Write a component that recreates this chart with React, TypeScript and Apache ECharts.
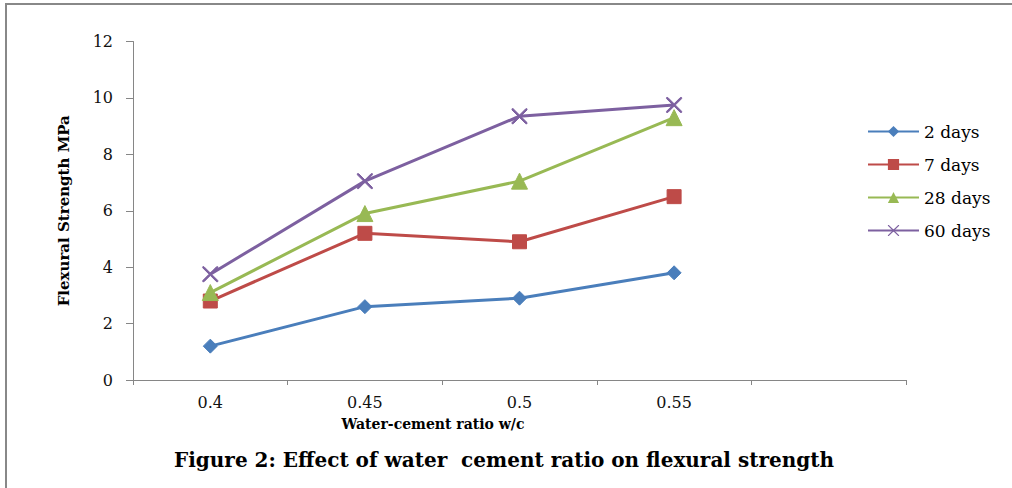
import React, { useEffect, useRef } from "react";
import * as echarts from "echarts";

const categories = ["0.4", "0.45", "0.5", "0.55", ""];
const seriesNames = ["2 days", "7 days", "28 days", "60 days"];
const days2 = [1.2, 2.6, 2.9, 3.8];
const days7 = [2.8, 5.2, 4.9, 6.5];
const days28 = [3.1, 5.9, 7.05, 9.3];
const days60 = [3.75, 7.05, 9.35, 9.75];
const yTicks = { min: 0, max: 12, interval: 2 };

const colors = ["#4A7EBB", "#BE4B48", "#98B954", "#7D60A0"];
const crossPath =
  "path://M0,0 L1.6,0 L10,8.4 L18.4,0 L20,0 L20,1.6 L11.6,10 L20,18.4 L20,20 L18.4,20 L10,11.6 L1.6,20 L0,20 L0,18.4 L8.4,10 L0,1.6 Z";

const FONT = "'DejaVu Serif', 'Liberation Serif', serif";

export default function App() {
  const ref = useRef<HTMLDivElement>(null);
  useEffect(() => {
    if (!ref.current) return;
    const chart = echarts.init(ref.current, null, { renderer: "svg" });
    const symbols = ["diamond", "rect", "triangle", crossPath];
    const sizes = [14, 14, 16, 15];
    const dataSets = [days2, days7, days28, days60];
    chart.setOption({
      animation: false,
      backgroundColor: "#ffffff",
      textStyle: { fontFamily: FONT },
      grid: { left: 133, top: 41.5, right: 106, bottom: 108, containLabel: false },
      legend: {
        orient: "vertical",
        left: 862,
        top: 118,
        itemWidth: 51,
        itemHeight: 14,
        itemGap: 16,
        textStyle: { fontFamily: FONT, fontSize: 17, color: "#000" },
        data: seriesNames,
      },
      xAxis: {
        type: "category",
        data: categories,
        boundaryGap: true,
        axisLine: { lineStyle: { color: "#868686", width: 1 } },
        axisTick: { show: true, length: 5, lineStyle: { color: "#868686" } },
        axisLabel: { fontFamily: FONT, fontSize: 16, color: "#111", margin: 14 },
        splitLine: { show: false },
      },
      yAxis: {
        type: "value",
        min: yTicks.min,
        max: yTicks.max,
        interval: yTicks.interval,
        axisLine: { show: true, lineStyle: { color: "#868686", width: 1 } },
        axisTick: { show: true, length: 7, lineStyle: { color: "#868686" } },
        axisLabel: { fontFamily: FONT, fontSize: 16, color: "#111", margin: 20 },
        splitLine: { show: false },
        name: "Flexural Strength MPa",
        nameLocation: "middle",
        nameRotate: 90,
        nameGap: 62,
        nameTextStyle: { fontFamily: FONT, fontSize: 15, fontWeight: "bold", color: "#000" },
      },
      graphic: [
        {
          type: "rect",
          shape: { x: 6, y: 4, width: 1100, height: 600 },
          style: { fill: "none", stroke: "#888", lineWidth: 2 },
          silent: true,
        },
        {
          type: "text",
          x: 433,
          y: 424,
          style: {
            text: "Water-cement ratio w/c",
            font: `bold 14px ${FONT}`,
            fill: "#000",
            align: "center",
            verticalAlign: "middle",
          },
        },
        {
          type: "text",
          x: 504,
          y: 460,
          style: {
            text: "Figure 2: Effect of water  cement ratio on flexural strength",
            font: `bold 20px ${FONT}`,
            fill: "#000",
            align: "center",
            verticalAlign: "middle",
          },
        },
      ],
      series: dataSets.map((d, i) => ({
        name: seriesNames[i],
        type: "line",
        data: d,
        symbol: symbols[i],
        symbolSize: sizes[i],
        showSymbol: true,
        lineStyle: { color: colors[i], width: 3 },
        itemStyle: { color: colors[i], borderColor: colors[i] },
      })),
    });
    return () => chart.dispose();
  }, []);
  return (
    <div
      ref={ref}
      style={{ position: "fixed", left: 0, top: 0, width: 1012, height: 488, background: "#fff" }}
    />
  );
}
